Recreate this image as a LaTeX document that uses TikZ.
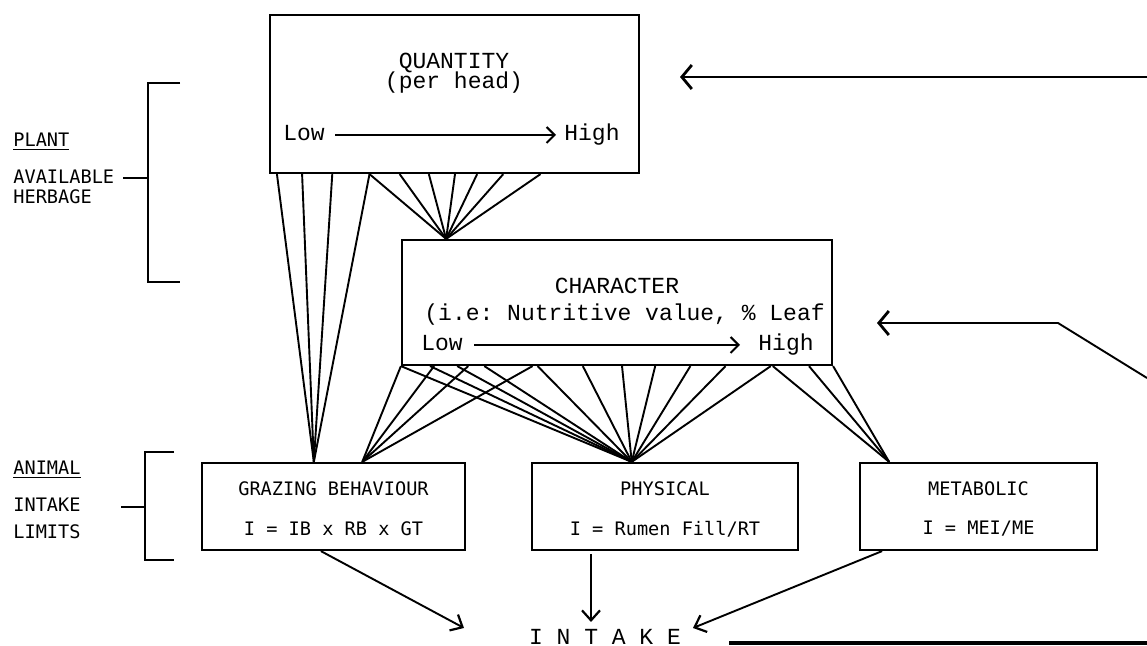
\documentclass[tikz,border=0pt]{standalone}
\usepackage{fontspec}
\setmonofont{Liberation Mono}
\newfontfamily\dotfont{DejaVu Sans Mono}
\usetikzlibrary{arrows.meta,calc}
\begin{document}
\begin{tikzpicture}[x=0.5pt,y=-0.5pt,
  box/.style={draw,line width=1.1pt,inner sep=0pt},
  conn/.style={line width=0.95pt},
  mono/.style={font=\fontsize{11.5}{13}\ttfamily,inner sep=0pt},
  dot/.style={font=\fontsize{9.3}{11}\dotfont,inner sep=0pt},
  lab/.style={dot,anchor=west},
  lh/.style={text height=1.6ex,text depth=0.4ex},
  scalearr/.style={conn,-{Straight Barb[length=4pt,width=8pt,line width=1pt]}},
  fbarr/.style={conn,-{Straight Barb[length=5pt,width=12pt,line width=1.4pt]}},
  outarr/.style={conn,-{Straight Barb[length=5pt,width=9pt,line width=1.1pt]}}]
\useasboundingbox (0,0) rectangle (1147,646);

% boxes
\node[box,minimum width=184.5pt,minimum height=79pt] (Q) at (454.5,94) {};
\node[box,minimum width=215pt,minimum height=62.5pt] (C) at (617,302.5) {};
\node[box,minimum width=131.5pt,minimum height=43.5pt] (G) at (333.5,506.5) {};
\node[box,minimum width=133pt,minimum height=43.5pt] (P) at (665,506.5) {};
\node[box,minimum width=118.5pt,minimum height=43.5pt] (M) at (978.5,506.5) {};

% texts in upper boxes
\node[mono] (qt) at (454,63) {QUANTITY};
\node[mono] (qs) at (454,83) {(per head)};
\node[mono,lh,inner xsep=5pt] (ql) at (304,135) {Low};
\node[mono,lh,inner xsep=4pt] (qh) at (592,135) {High};
\draw[scalearr] (ql) -- (qh);

\node[mono] (ct) at (617,286) {CHARACTER};
\node[mono,anchor=west] (ci) at (424,315) {(i.e: Nutritive value, \% Leaf};
\node[mono,lh,inner xsep=5.5pt] (cl) at (442,345) {Low};
\node[mono,lh,inner xsep=9pt] (ch) at (786,345) {High};
\draw[scalearr] (cl) -- (ch);

% texts in lower boxes
\node[dot] (gt) at (333.5,489) {GRAZING BEHAVIOUR};
\node[dot] (gf) at (333.5,529) {I = IB x RB x GT};
\node[dot] (pt) at (665,489) {PHYSICAL};
\node[dot] (pf) at (665,529) {I = Rumen Fill/RT};
\node[dot] (mt) at (978.5,489) {METABOLIC};
\node[dot] (mf) at (978.5,529) {I = MEI/ME};

% left labels
\node[lab] (plant) at (13,142) {\underline{PLANT}};
\node[lab] (avail) at (13,177) {AVAILABLE};
\node[lab] (herb) at (13,197) {HERBAGE};
\node[lab] (animal) at (13,470) {\underline{ANIMAL}};
\node[lab] (intk) at (13,505) {INTAKE};
\node[lab] (limits) at (13,532) {LIMITS};

% brackets
\coordinate (pb1) at (180,83); \coordinate (pb2) at (148,83);
\coordinate (pb3) at (148,282); \coordinate (pb4) at (180,282);
\coordinate (pbm) at (148,178); \coordinate (pbt) at (123,178);
\draw[conn] (pb1) -- (pb2) -- (pb3) -- (pb4);
\draw[conn] (pbt) -- (pbm);
\coordinate (ab1) at (174,452); \coordinate (ab2) at (145,452);
\coordinate (ab3) at (145,560); \coordinate (ab4) at (174,560);
\coordinate (abm) at (145,507); \coordinate (abt) at (121,507);
\draw[conn] (ab1) -- (ab2) -- (ab3) -- (ab4);
\draw[conn] (abt) -- (abm);

% apexes
\coordinate (gapex1) at ($(G.north west)!{(314-202)/263}!(G.north east)$);
\coordinate (gapex2) at ($(G.north west)!{(362-202)/263}!(G.north east)$);
\coordinate (capex) at ($(C.north west)!{(447-402)/430}!(C.north east)$);
\coordinate (papex) at ($(P.north west)!{(632-532)/266}!(P.north east)$);
\coordinate (mapex) at ($(M.north west)!{(890-860)/237}!(M.north east)$);

% quantity -> grazing
\foreach \x in {278,303,333,370}
  \draw[conn] ($(Q.south west)!{(\x-270)/369}!(Q.south east)$) -- (gapex1);
% quantity -> character
\foreach \x in {370,400,429,455,477,503,540}
  \draw[conn] ($(Q.south west)!{(\x-270)/369}!(Q.south east)$) -- (capex);
% character -> grazing
\foreach \x in {402,435,469,533}
  \draw[conn] ($(C.south west)!{(\x-402)/430}!(C.south east)$) -- (gapex2);
% character -> physical
\foreach \x in {402,431,458,485,538,583,622,655,690,725,770}
  \draw[conn] ($(C.south west)!{(\x-402)/430}!(C.south east)$) -- (papex);
% character -> metabolic
\foreach \x in {772,808,832}
  \draw[conn] ($(C.south west)!{(\x-402)/430}!(C.south east)$) -- (mapex);

% intake
\node[mono] (intake) at (605,637) {I N T A K E};
\coordinate (gs) at ($(G.south west)!{(321-202)/263}!(G.south east)$);
\coordinate (gtip) at (464,628);
\draw[outarr] (gs) -- (gtip);
\coordinate (ps) at (591,554);
\coordinate (ptip) at (591,622);
\draw[outarr] (ps) -- (ptip);
\coordinate (ms) at ($(M.south west)!{(883-860)/237}!(M.south east)$);
\coordinate (mtip) at (693,628);
\draw[outarr] (ms) -- (mtip);

% feedback lines
\coordinate (f1a) at (1147,77); \coordinate (f1b) at (680,77);
\draw[fbarr] (f1a) -- (f1b);
\coordinate (f2a) at (1147,378); \coordinate (f2b) at (1058,323); \coordinate (f2c) at (877,323);
\draw[fbarr] (f2a) -- (f2b) -- (f2c);
\coordinate (f3a) at (729,643); \coordinate (f3b) at (1147,643);
\draw[line width=1.7pt] (f3a) -- (f3b);
\end{tikzpicture}
\end{document}
